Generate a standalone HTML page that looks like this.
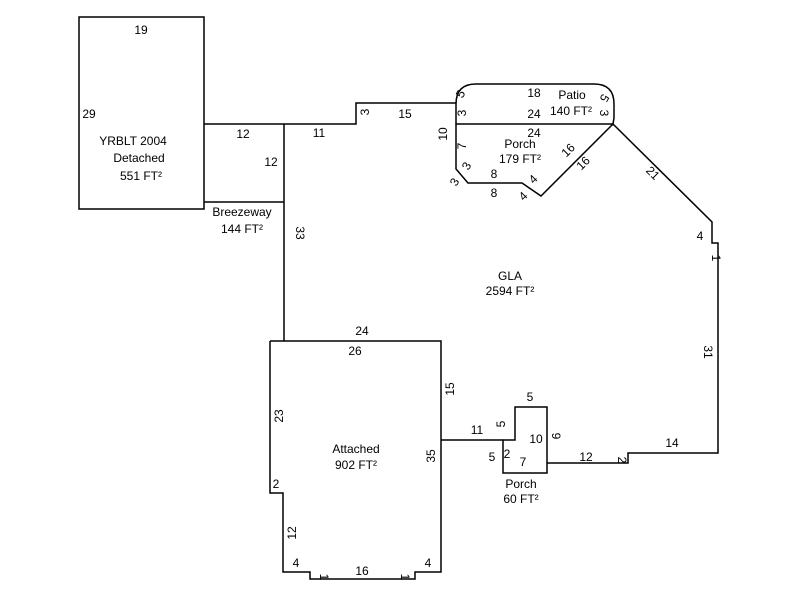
<!DOCTYPE html>
<html><head><style>body{margin:0;background:#fff}svg{display:block}text{font-family:"Liberation Sans",Arial,sans-serif;font-size:12px;fill:#000}</style></head><body>
<svg width="800" height="600" viewBox="0 0 800 600">
<g fill="none" stroke="#000" stroke-width="1.5">
<rect x="79" y="17" width="125" height="192"/>
<polyline points="204,124 356,124 356,103 456,103"/>
<line x1="204" y1="202" x2="284" y2="202"/>
<line x1="284" y1="124" x2="284" y2="341"/>
<path d="M456,124 V104 Q456,84 476,84 H594 Q614,84 614,104 V118 L613,124 Z"/>
<polyline points="456,124 456,169 468,183 522,183 541,196 613,124 712,222 712,243 718,243 718,453 628,453 628,463 547,463"/>
<polygon points="515,407 547,407 547,473 503,473 503,440 515,440"/>
<line x1="441" y1="440" x2="503" y2="440"/>
<polyline points="270,341 441,341 441,572 415,572 415,579 310,579 310,572 283,572 283,493 270,493 270,341"/>
</g>
<g text-anchor="middle">
<text x="141" y="34">19</text>
<text x="89" y="118">29</text>
<text x="133" y="145">YRBLT 2004</text>
<text x="139" y="162">Detached</text>
<text x="141" y="180">551 FT²</text>
<text x="243" y="138">12</text>
<text x="271" y="166">12</text>
<text x="319" y="137">11</text>
<text x="242" y="216">Breezeway</text>
<text x="242" y="233">144 FT²</text>
<text x="405" y="118">15</text>
<text x="534" y="97">18</text>
<text x="572" y="99">Patio</text>
<text x="571" y="115">140 FT²</text>
<text x="534" y="118">24</text>
<text x="534" y="137">24</text>
<text x="520" y="148">Porch</text>
<text x="520" y="163">179 FT²</text>
<text x="494" y="178">8</text>
<text x="494" y="197">8</text>
<text x="510" y="280">GLA</text>
<text x="510" y="295">2594 FT²</text>
<text x="700" y="240">4</text>
<text x="362" y="335">24</text>
<text x="355" y="355">26</text>
<text x="356" y="453">Attached</text>
<text x="356" y="469">902 FT²</text>
<text x="276" y="488">2</text>
<text x="296" y="567">4</text>
<text x="362" y="575">16</text>
<text x="428" y="567">4</text>
<text x="477" y="434">11</text>
<text x="530" y="401">5</text>
<text x="536" y="443">10</text>
<text x="507" y="458">2</text>
<text x="492" y="461">5</text>
<text x="523" y="466">7</text>
<text x="521" y="488">Porch</text>
<text x="521" y="503">60 FT²</text>
<text x="586" y="461">12</text>
<text x="672" y="447">14</text>
</g>
<g text-anchor="middle">
<text transform="translate(464,96) rotate(-60)">5</text>
<text transform="translate(466,113) rotate(-90)">3</text>
<text transform="translate(447,134) rotate(-90)">10</text>
<text transform="translate(466,146) rotate(-90)">7</text>
<text transform="translate(470,168) rotate(-60)">3</text>
<text transform="translate(458,184) rotate(-60)">3</text>
<text transform="translate(536,182) rotate(-45)">4</text>
<text transform="translate(526,199) rotate(-45)">4</text>
<text transform="translate(571,153) rotate(-45)">16</text>
<text transform="translate(586,166) rotate(-45)">16</text>
<text transform="translate(601,96) rotate(120)">5</text>
<text transform="translate(600,113) rotate(90)">3</text>
<text transform="translate(650,176) rotate(45)">21</text>
<text transform="translate(712,258) rotate(90)">1</text>
<text transform="translate(704,352) rotate(90)">31</text>
<text transform="translate(618,460) rotate(90)">2</text>
<text transform="translate(552,436) rotate(90)">9</text>
<text transform="translate(505,424) rotate(-90)">5</text>
<text transform="translate(296,233) rotate(90)">33</text>
<text transform="translate(369,112) rotate(-90)">3</text>
<text transform="translate(454,389) rotate(-90)">15</text>
<text transform="translate(435,456) rotate(-90)">35</text>
<text transform="translate(283,416) rotate(-90)">23</text>
<text transform="translate(296,533) rotate(-90)">12</text>
<text transform="translate(320,577) rotate(90)">1</text>
<text transform="translate(401,577) rotate(90)">1</text>
</g>
</svg>
</body></html>
